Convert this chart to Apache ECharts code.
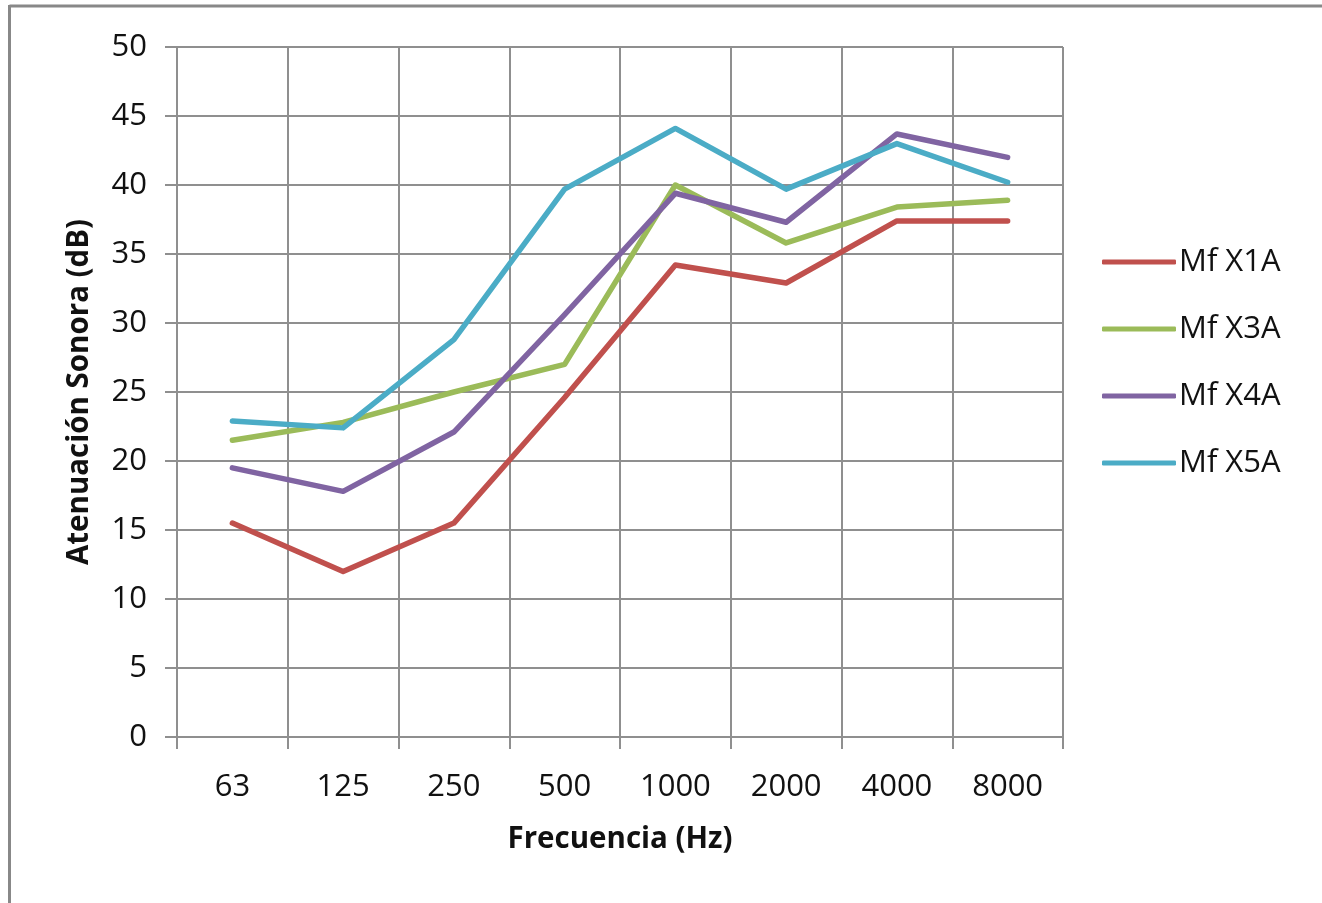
<!DOCTYPE html>
<html>
<head>
<meta charset="utf-8">
<script src="https://cdn.jsdelivr.net/npm/echarts@6/dist/echarts.min.js"></script>
<style>
html,body{margin:0;padding:0;background:#fff;}
#chart{width:1322px;height:903px;}
</style>
</head>
<body>
<div id="chart"></div>
<script>
const categories = ['63','125','250','500','1000','2000','4000','8000'];
const seriesNames = ['Mf X1A','Mf X3A','Mf X4A','Mf X5A'];
const mfX1A = [15.5, 12.0, 15.5, 24.6, 34.2, 32.9, 37.4, 37.4];
const mfX3A = [21.5, 22.8, 25.0, 27.0, 40.0, 35.8, 38.4, 38.9];
const mfX4A = [19.5, 17.8, 22.1, 30.6, 39.4, 37.3, 43.7, 42.0];
const mfX5A = [22.9, 22.4, 28.8, 39.7, 44.1, 39.7, 43.0, 40.2];
const colors = ['#C0504D','#9BBB59','#8064A2','#4BACC6'];
const values = [mfX1A, mfX3A, mfX4A, mfX5A];

const FONT = '"Open Sans", sans-serif';
const gridColor = '#8f8f8f';

const chart = echarts.init(document.getElementById('chart'), null, {renderer:'canvas'});
chart.setOption({
  animation: false,
  backgroundColor: '#fff',
  graphic: [
    {type:'line', shape:{x1:9.5,y1:6,x2:1322,y2:6}, style:{stroke:'#888',lineWidth:3}},
    {type:'line', shape:{x1:9.5,y1:5,x2:9.5,y2:903}, style:{stroke:'#888',lineWidth:3}}
  ],
  grid: {left:177, top:47, width:886, height:690, containLabel:false},
  legend: {
    orient:'vertical',
    left:1102, top:245,
    padding:0,
    itemWidth:74, itemHeight:5,
    itemGap:33,
    icon:'roundRect',
    textStyle:{fontFamily:FONT, fontSize:31, color:'#111', lineHeight:34, padding:[0,0,0,-2]},
    data: seriesNames
  },
  xAxis: {
    type:'category',
    data: categories,
    boundaryGap:true,
    name:'Frecuencia (Hz)',
    nameLocation:'middle',
    nameGap:88,
    nameTextStyle:{fontFamily:FONT, fontSize:29.5, fontWeight:'bold', color:'#111'},
    axisLine:{show:true, lineStyle:{color:gridColor, width:2}},
    axisTick:{show:true, length:12, lineStyle:{color:gridColor, width:2}},
    axisLabel:{fontFamily:FONT, fontSize:31, color:'#111', margin:35},
    splitLine:{show:true, lineStyle:{color:gridColor, width:2}}
  },
  yAxis: {
    type:'value',
    min:0, max:50, interval:5,
    name:'Atenuación Sonora (dB)',
    nameLocation:'middle',
    nameGap:82,
    nameTextStyle:{fontFamily:FONT, fontSize:29.5, fontWeight:'bold', color:'#111'},
    axisLine:{show:true, lineStyle:{color:gridColor, width:2}},
    axisTick:{show:true, length:12, lineStyle:{color:gridColor, width:2}},
    axisLabel:{fontFamily:FONT, fontSize:31, color:'#111', margin:30},
    splitLine:{show:true, lineStyle:{color:gridColor, width:2}}
  },
  series: seriesNames.map((n,i)=>({
    name:n,
    type:'line',
    data: values[i],
    symbol:'none',
    smooth:false,
    itemStyle:{color:colors[i]},
    lineStyle:{color:colors[i], width:5.5, cap:'round', join:'round'}
  }))
});
</script>
</body>
</html>
